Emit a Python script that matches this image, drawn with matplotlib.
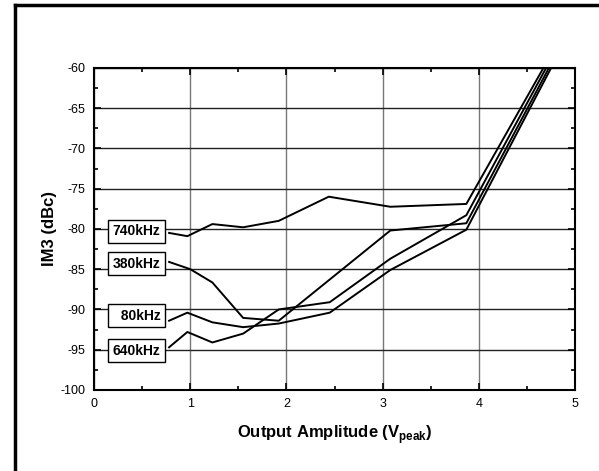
import matplotlib
matplotlib.use("Agg")
import matplotlib.pyplot as plt
from matplotlib.lines import Line2D
from matplotlib.ticker import MultipleLocator

plt.rcParams['font.family'] = ['Liberation Sans', 'DejaVu Sans']
plt.rcParams['mathtext.fontset'] = 'custom'
plt.rcParams['mathtext.rm'] = 'Liberation Sans'
plt.rcParams['mathtext.bf'] = 'Liberation Sans:bold'
plt.rcParams['axes.unicode_minus'] = False

# values
x_740 = [0.78, 0.97, 1.23, 1.55, 1.92, 2.44, 3.08, 3.87, 4.8]
y_740 = [-80.5, -80.9, -79.4, -79.8, -79.0, -76.0, -77.25, -76.9, -57.3]
x_380 = [0.78, 1.0, 1.23, 1.55, 1.92, 3.08, 3.87, 4.8]
y_380 = [-84.1, -85.0, -86.65, -91.05, -91.4, -80.2, -79.3, -58.4]
x_80 = [0.78, 0.97, 1.23, 1.55, 1.92, 2.45, 3.08, 3.87, 4.8]
y_80 = [-91.4, -90.4, -91.6, -92.2, -91.75, -90.4, -85.1, -80.1, -58.9]
x_640 = [0.78, 0.97, 1.23, 1.55, 1.92, 2.45, 3.08, 3.87, 4.8]
y_640 = [-94.7, -92.8, -94.1, -93.0, -90.0, -89.1, -83.7, -78.3, -57.8]

labels = ["740kHz", "380kHz", "  80kHz", "640kHz"]
label_y = [-80.3, -84.3, -90.8, -95.1]

fig = plt.figure(figsize=(5.99, 4.71), dpi=100)
ax = fig.add_axes([0.157, 0.172, 0.803, 0.684])

for xs, ys in [(x_740, y_740), (x_380, y_380), (x_80, y_80), (x_640, y_640)]:
	ax.plot(xs, ys, color="black", lw=1.4, zorder=3)

for lab, ly in zip(labels, label_y):
	ax.text(0.69, ly, lab, ha="right", va="center", fontsize=10, fontweight="bold", zorder=4,
			bbox=dict(boxstyle="square,pad=0.32", fc="white", ec="black", lw=1))

ax.set_xlim(0, 5)
ax.set_ylim(-100, -60)
ax.xaxis.set_major_locator(MultipleLocator(1))
ax.xaxis.set_minor_locator(MultipleLocator(0.5))
ax.yaxis.set_major_locator(MultipleLocator(5))
ax.yaxis.set_minor_locator(MultipleLocator(2.5))
ax.tick_params(which="both", direction="in", top=True, right=True, labelsize=9, width=1.2)
ax.tick_params(which="major", length=5, pad=6)
ax.tick_params(which="minor", length=3)
ax.grid(axis="x", which="major", color="#777777", lw=1)
ax.grid(axis="y", which="major", color="#222222", lw=1)
for s in ax.spines.values():
	s.set_linewidth(1.5)

ax.set_xlabel(r"Output Amplitude (V$_{\mathbf{peak}}$)", fontsize=12, fontweight="bold", labelpad=9)
ax.set_ylabel("IM3 (dBc)", fontsize=12, fontweight="bold", labelpad=3)

# outer frame (left and top only visible)
fig.add_artist(Line2D([0.025, 0.025], [0.0, 0.989], transform=fig.transFigure, color="black", lw=2.5))
fig.add_artist(Line2D([0.025, 1.0], [0.989, 0.989], transform=fig.transFigure, color="black", lw=2.5))

fig.savefig("out.png", dpi=100)
